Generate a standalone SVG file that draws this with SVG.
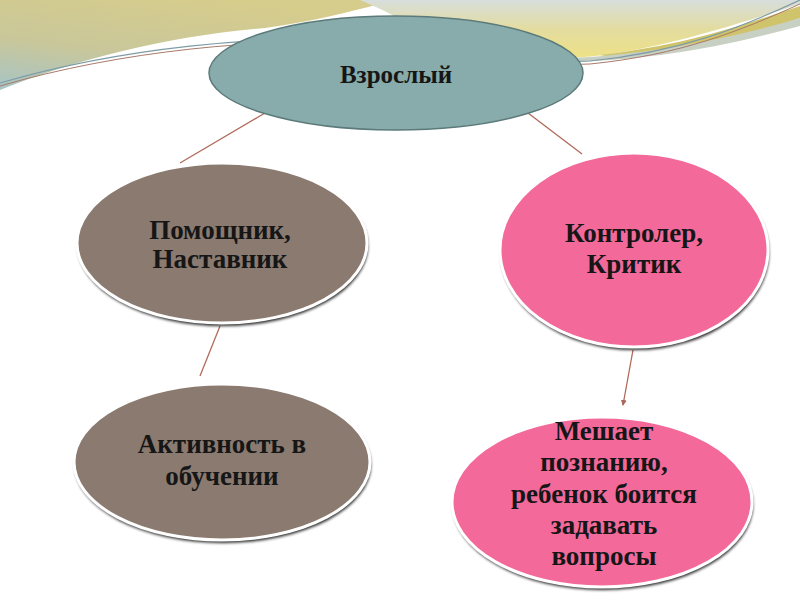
<svg xmlns="http://www.w3.org/2000/svg" width="800" height="600" viewBox="0 0 800 600">
<defs>
<linearGradient id="gTL" x1="0.55" y1="0" x2="0" y2="1">
<stop offset="0" stop-color="#d6cc8c"/>
<stop offset="0.55" stop-color="#c9c79a"/>
<stop offset="1" stop-color="#a6c4c6"/>
</linearGradient>
<linearGradient id="gTR" x1="0" y1="0" x2="0" y2="1">
<stop offset="0" stop-color="#d7dedc"/>
<stop offset="0.5" stop-color="#e3dca0"/>
<stop offset="1" stop-color="#eee186"/>
</linearGradient>
<filter id="sh" x="-10%" y="-10%" width="120%" height="130%">
<feGaussianBlur stdDeviation="1.6"/>
</filter>
<marker id="arr" markerWidth="6" markerHeight="6" refX="5" refY="3" orient="auto" markerUnits="userSpaceOnUse">
<path d="M0,0 L6,3 L0,6 Z" fill="#a8685a"/>
</marker>
<style>
.txt{font-family:"Liberation Serif","Times New Roman",serif;font-weight:bold;fill:#161616;text-anchor:middle}
.shadow{fill:#000;opacity:0.85;filter:url(#sh)}
.brown{fill:#8a7a70;stroke:#ffffff;stroke-width:3}
.pink{fill:#f2699a;stroke:#ffffff;stroke-width:3}
.conn{stroke:#b06a5a;stroke-width:1.3;fill:none}
</style>
</defs>
<rect x="0" y="0" width="800" height="600" fill="#ffffff"/>
<g id="background">
<path d="M0,0 H395 C350,12 310,22 265,28 C170,36 80,58 0,90 Z" fill="url(#gTL)"/>
<path d="M360,0 H800 V4 C720,30 640,55 570,58 C500,60 440,42 405,22 C388,12 374,6 360,0 Z" fill="url(#gTR)"/>
<path d="M600,55 C690,45 750,22 800,6 V18 C750,36 690,52 620,59 Z" fill="#cfc46c"/>
<path d="M540,58 C600,60 700,48 800,18 V26 C720,48 640,62 560,62 Z" fill="#c8d0c4"/>
<path d="M0,83 C120,48 260,34 380,40 C470,45 530,64 590,61 C680,52 740,28 800,0" fill="none" stroke="#7f9ca6" stroke-width="1.2"/>
<path d="M0,86 C120,51 260,37 380,43 C470,48 530,67 590,64 C680,55 740,31 800,4" fill="none" stroke="#a87a6a" stroke-width="1"/>
</g>
<g id="connectors">
<line class="conn" x1="265" y1="113" x2="180" y2="163"/>
<line class="conn" x1="528" y1="113" x2="582" y2="154"/>
<line class="conn" x1="220" y1="326" x2="200" y2="376"/>
<line class="conn" x1="633" y1="350" x2="623" y2="405" marker-end="url(#arr)"/>
</g>
<g id="n1">
<ellipse cx="396" cy="73" rx="187" ry="57" fill="#88abab" stroke="#5c7a7a" stroke-width="1.5"/>
<text class="txt" x="396" y="83" font-size="25">Взрослый</text>
</g>
<g id="n2">
<ellipse class="shadow" cx="223" cy="246" rx="145" ry="80"/>
<ellipse class="brown" cx="222" cy="243" rx="145" ry="80"/>
<text class="txt" x="220" y="239" font-size="27">Помощник,</text>
<text class="txt" x="220" y="268" font-size="27">Наставник</text>
</g>
<g id="n3">
<ellipse class="shadow" cx="635" cy="253" rx="134" ry="97"/>
<ellipse class="pink" cx="634" cy="250" rx="134" ry="97"/>
<text class="txt" x="634" y="242" font-size="27">Контролер,</text>
<text class="txt" x="634" y="273" font-size="27">Критик</text>
</g>
<g id="n4">
<ellipse class="shadow" cx="223" cy="465" rx="148" ry="78"/>
<ellipse class="brown" cx="222" cy="462" rx="148" ry="78"/>
<text class="txt" x="222" y="453" font-size="27">Активность в</text>
<text class="txt" x="222" y="485" font-size="27">обучении</text>
</g>
<g id="n5">
<ellipse class="shadow" cx="603" cy="505" rx="150" ry="85"/>
<ellipse class="pink" cx="602" cy="502" rx="150" ry="85"/>
<text class="txt" x="604" y="440" font-size="27">Мешает</text>
<text class="txt" x="604" y="471" font-size="27">познанию,</text>
<text class="txt" x="604" y="503" font-size="27">ребенок боится</text>
<text class="txt" x="604" y="534" font-size="27">задавать</text>
<text class="txt" x="604" y="565" font-size="27">вопросы</text>
</g>
</svg>
